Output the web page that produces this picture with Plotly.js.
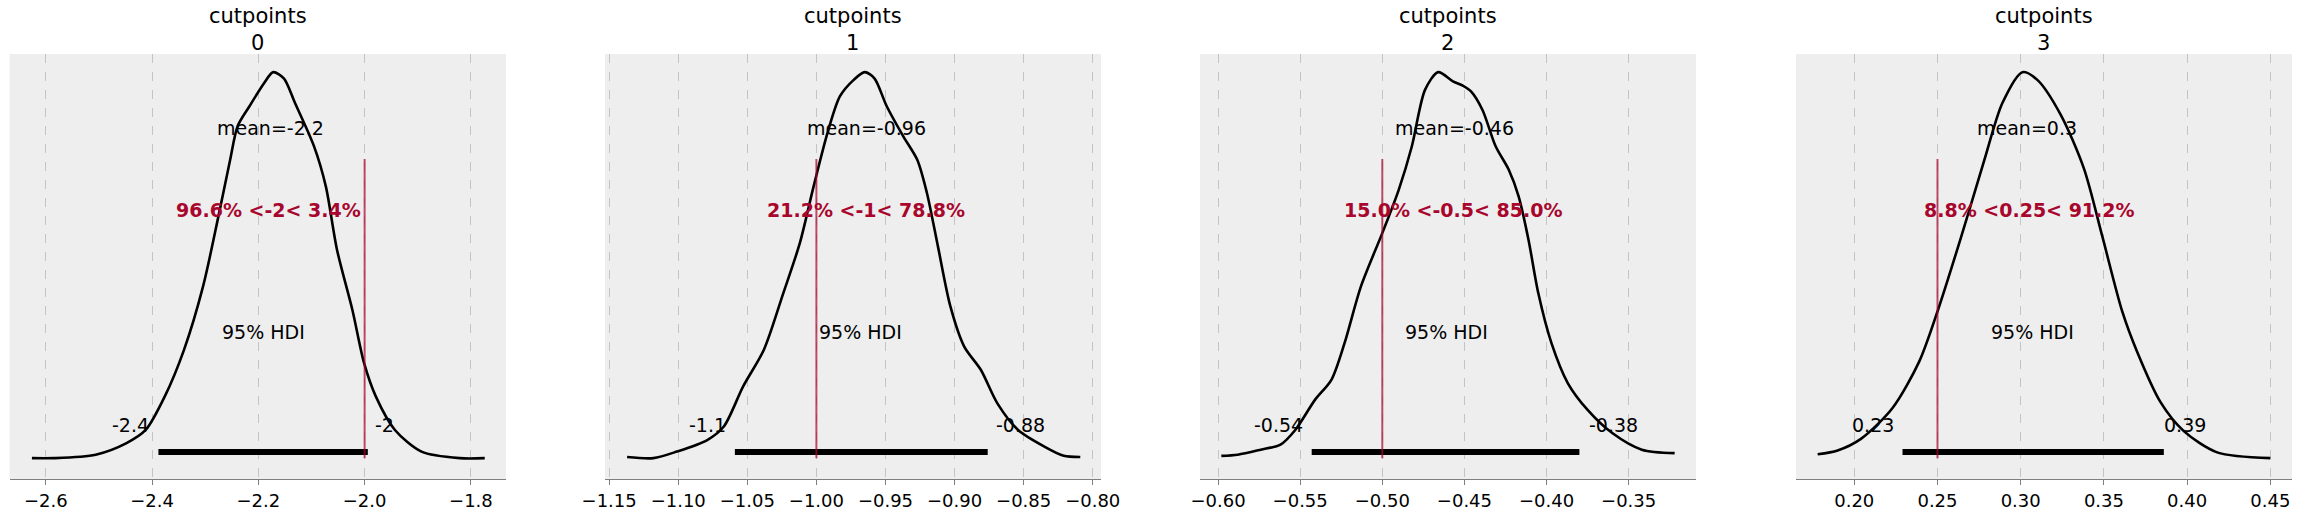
<!DOCTYPE html>
<html><head><meta charset="utf-8">
<script src="https://cdn.plot.ly/plotly-3.0.1.min.js"></script>
<style>html,body{margin:0;padding:0;background:#fff}</style>
</head><body><div id="chart" style="width:2301px;height:517px"></div>
<script>
const titles = ["cutpoints<br>0","cutpoints<br>1","cutpoints<br>2","cutpoints<br>3"];
const kdeX0 = [-2.626,-2.585,-2.506,-2.448,-2.412,-2.376,-2.34,-2.304,-2.275,-2.253,-2.239,-2.217,-2.189,-2.172,-2.152,-2.131,-2.095,-2.073,-2.052,-2.023,-2.001,-1.979,-1.943,-1.893,-1.821,-1.774];
const kdeY0 = [0,0,0.009,0.039,0.073,0.16,0.28,0.445,0.627,0.773,0.86,0.911,0.972,1,0.984,0.92,0.807,0.704,0.54,0.384,0.246,0.16,0.073,0.017,0,0];
const kdeX1 = [-1.137,-1.118,-1.101,-1.079,-1.067,-1.053,-1.038,-1.024,-1.012,-1.002,-0.992,-0.983,-0.973,-0.965,-0.958,-0.949,-0.937,-0.927,-0.920,-0.912,-0.903,-0.893,-0.881,-0.869,-0.854,-0.835,-0.821,-0.809];
const kdeY1 = [0.003,0,0.017,0.047,0.082,0.186,0.281,0.427,0.557,0.704,0.842,0.937,0.98,1,0.984,0.911,0.833,0.773,0.687,0.548,0.393,0.289,0.229,0.142,0.073,0.03,0.006,0.003];
const kdeX2 = [-0.598,-0.588,-0.574,-0.562,-0.553,-0.541,-0.531,-0.523,-0.513,-0.5,-0.490,-0.482,-0.474,-0.466,-0.457,-0.451,-0.446,-0.439,-0.431,-0.423,-0.417,-0.411,-0.405,-0.397,-0.387,-0.375,-0.360,-0.342,-0.322];
const kdeY2 = [0.006,0.009,0.022,0.035,0.073,0.151,0.203,0.298,0.445,0.583,0.695,0.808,0.954,1,0.976,0.965,0.95,0.902,0.808,0.747,0.678,0.566,0.427,0.298,0.194,0.125,0.065,0.022,0.013];
const kdeX3 = [0.178,0.190,0.204,0.223,0.239,0.250,0.264,0.278,0.289,0.301,0.310,0.324,0.338,0.349,0.361,0.370,0.384,0.398,0.418,0.45];
const kdeY3 = [0.01,0.02,0.05,0.13,0.25,0.38,0.57,0.77,0.92,1.0,0.98,0.89,0.75,0.575,0.38,0.275,0.145,0.07,0.015,0];
const kdeXs = [kdeX0,kdeX1,kdeX2,kdeX3];
const kdeYs = [kdeY0,kdeY1,kdeY2,kdeY3];
const hdiLow = [-2.388,-1.059,-0.543,0.229];
const hdiHigh = [-1.994,-0.876,-0.380,0.386];
const hdiLowLabel = ["-2.4","-1.1","-0.54","0.23"];
const hdiHighLabel = ["-2","-0.88","-0.38","0.39"];
const meanLabel = ["mean=-2.2","mean=-0.96","mean=-0.46","mean=0.3"];
const refVal = [-2,-1,-0.5,0.25];
const refLabel = ["96.6% <-2< 3.4%","21.2% <-1< 78.8%","15.0% <-0.5< 85.0%","8.8% <0.25< 91.2%"];
const xRanges = [[-2.668,-1.734],[-1.153,-0.794],[-0.611,-0.309],[0.165,0.463]];
const xTicks = [[-2.6,-2.4,-2.2,-2.0,-1.8],[-1.15,-1.10,-1.05,-1.00,-0.95,-0.90,-0.85,-0.80],[-0.60,-0.55,-0.50,-0.45,-0.40,-0.35],[0.20,0.25,0.30,0.35,0.40,0.45]];
const tickFmt = [".1f",".2f",".2f",".2f"];
const pxDomains = [[9.6,506],[605,1101],[1200,1696],[1796,2292]];
// label anchor positions (data x)
const meanX = [-2.178,-0.964,-0.456,0.304];
const refTextX = [-2.18,-0.964,-0.457,0.305];
const hdiTextX = [-2.19,-0.968,-0.461,0.307];
const lowLabX = [-2.44,-1.079,-0.563,0.211];
const highLabX = [-1.963,-0.852,-0.359,0.399];

const W = 2301;
const red = "#a8062d";
const traces = [], annotations = [], layout = {
  width: 2301, height: 517, margin:{l:0,r:0,t:0,b:0},
  paper_bgcolor:"#fff", plot_bgcolor:"#eeeeee", showlegend:false,
  font:{family:"DejaVu Sans", color:"#000"}
};
const yDom = [(517-479)/517, (517-54)/517];
for (let i=0;i<4;i++){
  const s = i===0 ? "" : String(i+1);
  const xa = "x"+s, ya = "y"+s;
  traces.push({x:kdeXs[i], y:kdeYs[i], xaxis:xa, yaxis:ya, mode:"lines", line:{color:"#000",width:2.6,shape:"spline",smoothing:0.8}, hoverinfo:"skip"});
  traces.push({x:[hdiLow[i],hdiHigh[i]], y:[0.016,0.016], xaxis:xa, yaxis:ya, mode:"lines", line:{color:"#000",width:6}, hoverinfo:"skip"});
  traces.push({x:[refVal[i],refVal[i]], y:[0,0.775], xaxis:xa, yaxis:ya, mode:"lines", line:{color:"rgba(168,6,45,0.7)",width:2}, hoverinfo:"skip"});
  layout["xaxis"+s] = {domain:[pxDomains[i][0]/W,pxDomains[i][1]/W], range:xRanges[i], anchor:ya,
    tickvals:xTicks[i], tickformat:tickFmt[i], showgrid:true, gridcolor:"#c4c4c4", griddash:"dash", gridwidth:1,
    zeroline:false, showline:true, linecolor:"#7f7f7f", linewidth:1.3, ticks:"outside", ticklen:5, tickcolor:"#7f7f7f",
    tickfont:{size:18, family:"DejaVu Sans", color:"#000"}};
  layout["yaxis"+s] = {domain:yDom, range:[-0.054,1.047], anchor:xa, showgrid:false, zeroline:false, showticklabels:false, showline:false, ticks:""};
  const xr = xa, yr = ya;
  annotations.push({xref:xr+" domain", yref:"paper", x:0.5, y:1-2/517, yanchor:"top", text:titles[i], showarrow:false, font:{size:21,family:"DejaVu Sans"}});
  annotations.push({xref:xr, yref:yr, x:meanX[i], y:0.855, text:meanLabel[i], showarrow:false, font:{size:19}});
  annotations.push({xref:xr, yref:yr, x:refTextX[i], y:0.642, text:"<b>"+refLabel[i]+"</b>", showarrow:false, font:{size:19,color:red}});
  annotations.push({xref:xr, yref:yr, x:hdiTextX[i], y:0.326, text:"95% HDI", showarrow:false, font:{size:19}});
  annotations.push({xref:xr, yref:yr, x:lowLabX[i], y:0.085, text:hdiLowLabel[i], showarrow:false, font:{size:19}});
  annotations.push({xref:xr, yref:yr, x:highLabX[i], y:0.085, text:hdiHighLabel[i], showarrow:false, font:{size:19}});
}
layout.annotations = annotations;
Plotly.newPlot("chart", traces, layout, {staticPlot:true, displayModeBar:false});
</script></body></html>
